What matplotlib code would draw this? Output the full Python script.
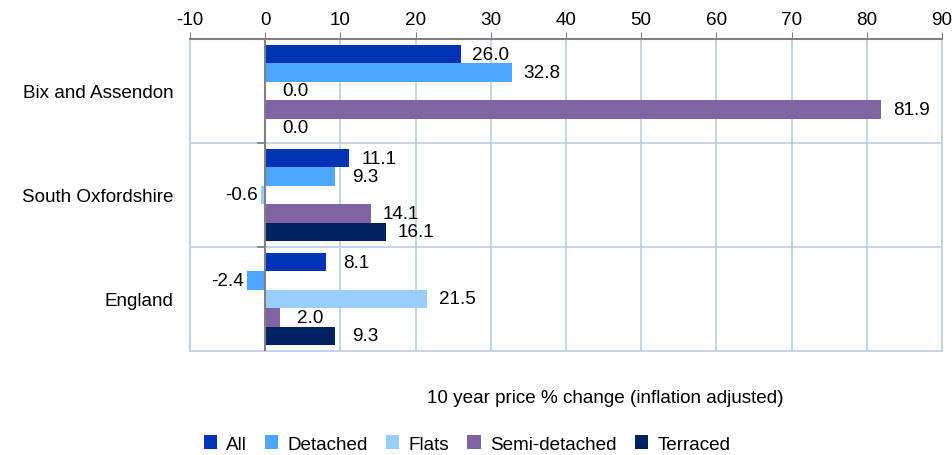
import matplotlib.pyplot as plt
import numpy as np

plt.rcParams['font.family'] = ['Liberation Sans', 'DejaVu Sans']
plt.rcParams['axes.unicode_minus'] = False

categories = ['Bix and Assendon', 'South Oxfordshire', 'England']
series = ['All', 'Detached', 'Flats', 'Semi-detached', 'Terraced']
values = {
    'All': [26.0, 11.1, 8.1],
    'Detached': [32.8, 9.3, -2.4],
    'Flats': [0.0, -0.6, 21.5],
    'Semi-detached': [81.9, 14.1, 2.0],
    'Terraced': [0.0, 16.1, 9.3],
}
colors = ['#0033b4', '#4da6ff', '#99ccff', '#8064a2', '#002060']
x_ticks = [-10, 0, 10, 20, 30, 40, 50, 60, 70, 80, 90]
x_label = '10 year price % change (inflation adjusted)'

fs = 13.6
fig = plt.figure(figsize=(9.53, 4.56), dpi=100)
ax = fig.add_axes([190 / 953, 1 - 352 / 456, (942 - 190) / 953, (352 - 40) / 456])

bar_h = 0.177
n = len(series)
for i, (name, color) in enumerate(zip(series, colors)):
    offs = (i - (n - 1) / 2) * bar_h
    for j, v in enumerate(values[name]):
        y = j + offs
        ax.barh(y, v, height=bar_h, color=color, zorder=3,
                label=name if j == 0 else None)
        if v >= 0:
            ax.text(v + 4.0, y, f'{v:.1f}', va='center', ha='center', fontsize=fs, zorder=4)
        else:
            ax.text(v - 0.4, y, f'{v:.1f}', va='center', ha='right', fontsize=fs, zorder=4)

ax.set_xlim(-10, 90)
ax.set_ylim(2.5, -0.5)
ax.set_xticks(x_ticks)
ax.xaxis.tick_top()
ax.tick_params(axis='x', labelsize=fs, length=5, color='#808080', pad=3,
               direction='out')
ax.set_yticks([0, 1, 2])
ax.set_yticklabels(categories, fontsize=fs)
ax.tick_params(axis='y', length=0, pad=12)

# grid: vertical lines and category separators
for xt in x_ticks:
    if xt != 0:
        ax.axvline(xt, color='#b9cde5', lw=1.2, zorder=1)
for yb in [0.5, 1.5]:
    ax.axhline(yb, color='#b9cde5', lw=1.2, zorder=1)
    ax.plot([-1.0, 0], [yb, yb], color='#808080', lw=1.2, zorder=5)
ax.axvline(0, color='#808080', lw=1.5, zorder=5)

for side in ['left', 'right', 'bottom']:
    ax.spines[side].set_color('#b9cde5')
    ax.spines[side].set_linewidth(1.2)
ax.spines['top'].set_color('#808080')
ax.spines['top'].set_linewidth(1.5)

fig.text(605 / 953, 1 - 399 / 456, x_label, ha='center', va='center', fontsize=fs)

handles, labels = ax.get_legend_handles_labels()
fig.legend(handles, labels, loc='center', bbox_to_anchor=(467 / 953, 1 - 445 / 456),
           ncol=5, frameon=False, fontsize=fs, handlelength=0.7, handleheight=0.7,
           handletextpad=0.5, columnspacing=0.95)

fig.savefig('out.png', dpi=100)
